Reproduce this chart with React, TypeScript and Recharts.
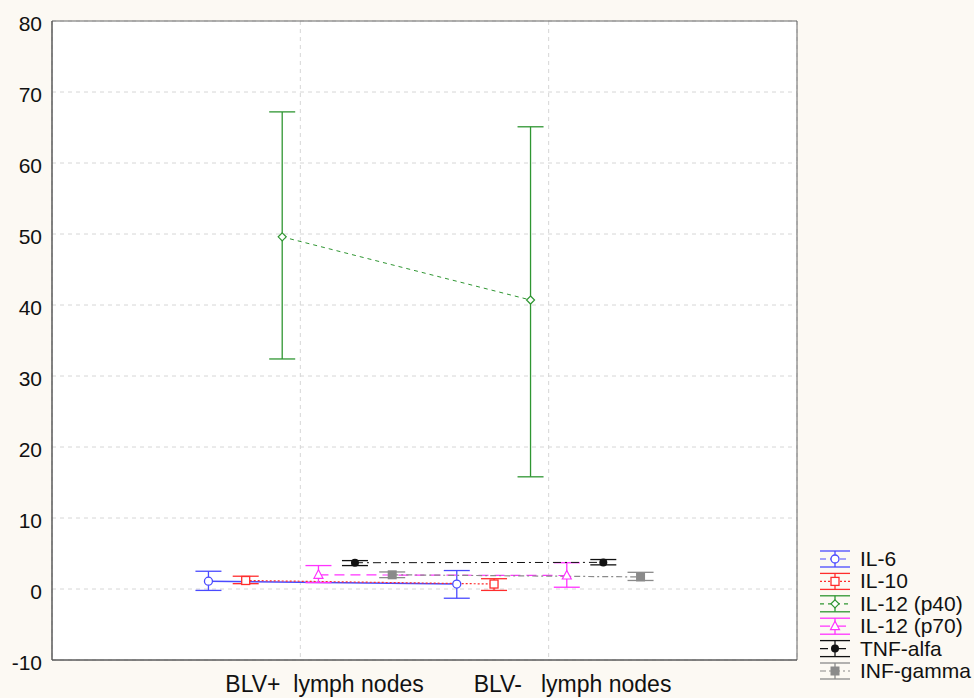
import { ComposedChart, Line, XAxis, YAxis, CartesianGrid, ErrorBar, ReferenceArea, Legend } from 'recharts'

const categories = ['BLV+  lymph nodes', 'BLV-   lymph nodes']
const seriesNames = ['IL-6', 'IL-10', 'IL-12 (p40)', 'IL-12 (p70)', 'TNF-alfa', 'INF-gamma']
const yTicks = [-10, 0, 10, 20, 30, 40, 50, 60, 70, 80]

// values per series, same order as seriesNames
const meanBlvPos = [1.1, 1.2, 49.6, 2.0, 3.7, 2.0]
const lowBlvPos = [-0.2, 0.75, 32.4, 0.9, 3.3, 1.6]
const highBlvPos = [2.5, 1.8, 67.2, 3.3, 4.0, 2.4]

const meanBlvNeg = [0.7, 0.7, 40.7, 1.9, 3.75, 1.7]
const lowBlvNeg = [-1.3, -0.2, 15.8, 0.25, 3.4, 1.2]
const highBlvNeg = [2.6, 1.45, 65.1, 3.7, 4.15, 2.35]

// horizontal shift of each series around its category
const offsets = [-0.37, -0.22, -0.073, 0.073, 0.22, 0.37]

type Marker = 'circle' | 'square' | 'diamond' | 'triangle' | 'dot' | 'block'

const STYLES: { color: string; dash?: string; width: number; marker: Marker }[] = [
  { color: '#4a4aff', width: 1.5, marker: 'circle' },
  { color: '#ff2d2d', dash: '2 2', width: 1.2, marker: 'square' },
  { color: '#2f9632', dash: '4 4', width: 1, marker: 'diamond' },
  { color: '#ff33ff', dash: '10 6', width: 1.2, marker: 'triangle' },
  { color: '#111111', dash: '8 4 2 4', width: 1, marker: 'dot' },
  { color: '#8a8a8a', dash: '6 3 2 3', width: 1.2, marker: 'block' },
]

const FONT = 'Liberation Sans, Arial, sans-serif'

const seriesData = seriesNames.map((name, i) => {
  const means = [meanBlvPos[i], meanBlvNeg[i]]
  const lows = [lowBlvPos[i], lowBlvNeg[i]]
  const highs = [highBlvPos[i], highBlvNeg[i]]
  return {
    name,
    rows: means.map((m, c) => ({
      x: c + 1 + offsets[i],
      y: m,
      err: [m - lows[c], highs[c] - m],
    })),
  }
})

function MarkerShape({ cx, cy, marker, color }: { cx: number; cy: number; marker: Marker; color: string }) {
  switch (marker) {
    case 'circle':
      return <circle cx={cx} cy={cy} r={4} fill="#fff" stroke={color} strokeWidth={1.3} />
    case 'square':
      return <rect x={cx - 4} y={cy - 4} width={8} height={8} fill="#fff" stroke={color} strokeWidth={1.3} />
    case 'diamond':
      return (
        <polygon
          points={`${cx},${cy - 4} ${cx + 4},${cy} ${cx},${cy + 4} ${cx - 4},${cy}`}
          fill="#fff"
          stroke={color}
          strokeWidth={1.2}
        />
      )
    case 'triangle':
      return (
        <polygon
          points={`${cx},${cy - 5} ${cx + 4.5},${cy + 3.5} ${cx - 4.5},${cy + 3.5}`}
          fill="#fff"
          stroke={color}
          strokeWidth={1.2}
        />
      )
    case 'dot':
      return <circle cx={cx} cy={cy} r={4} fill={color} />
    default:
      return <rect x={cx - 4.5} y={cy - 4.5} width={9} height={9} fill={color} />
  }
}

const CategoryTick = ({ x, y, payload }: { x: number; y: number; payload: { value: number } }) => (
  <text x={x - 75} y={y + 30} fontSize={23} fill="#111" fontFamily={FONT} style={{ whiteSpace: 'pre' }}>
    {categories[payload.value - 1]}
  </text>
)

const ValueTick = ({ x, y, payload }: { x: number; y: number; payload: { value: number } }) => (
  <text x={x} y={y + 10} fontSize={21} fill="#111" fontFamily={FONT} textAnchor="end">
    {payload.value}
  </text>
)

const LegendBox = () => (
  <svg width={156} height={140}>
    {seriesNames.map((name, i) => {
      const s = STYLES[i]
      const cy = 14 + i * 22.4
      return (
        <g key={name}>
          <line x1={2} x2={32} y1={cy - 8} y2={cy - 8} stroke={s.color} strokeWidth={1.3} />
          <line x1={2} x2={32} y1={cy + 8} y2={cy + 8} stroke={s.color} strokeWidth={1.3} />
          <line x1={17} x2={17} y1={cy - 8} y2={cy + 8} stroke={s.color} strokeWidth={1.3} />
          <line x1={2} x2={32} y1={cy} y2={cy} stroke={s.color} strokeWidth={1.2} strokeDasharray={s.dash ?? '6 4'} />
          <MarkerShape cx={17} cy={cy} marker={s.marker} color={s.color} />
          <text x={42} y={cy + 7} fontSize={21} fill="#111" fontFamily={FONT}>
            {name}
          </text>
        </g>
      )
    })}
  </svg>
)

export default function App() {
  return (
    <div style={{ position: 'absolute', left: 0, top: 0, width: 974, height: 698, background: '#fcf9f3' }}>
      <ComposedChart width={974} height={698} margin={{ top: 21, right: 177, bottom: 0, left: 0 }}>
        <CartesianGrid fill="#ffffff" stroke="#d6d6d6" strokeDasharray="4 4" />
        <XAxis
          type="number"
          dataKey="x"
          domain={[0, 3]}
          ticks={[1, 2]}
          height={38}
          tickSize={0}
          tickLine={false}
          axisLine={{ stroke: '#555' }}
          tick={CategoryTick}
          allowDuplicatedCategory={false}
        />
        <YAxis
          type="number"
          domain={[-10, 80]}
          ticks={yTicks}
          width={52}
          tickSize={0}
          tickMargin={10}
          tickLine={false}
          axisLine={{ stroke: '#555' }}
          tick={ValueTick}
        />
        <ReferenceArea x1={0} x2={3} y1={-10} y2={80} fill="none" stroke="#666" strokeWidth={1} />
        {seriesData.map((s, i) => {
          const st = STYLES[i]
          return (
            <Line
              key={s.name}
              data={s.rows}
              dataKey="y"
              name={s.name}
              stroke={st.color}
              strokeWidth={st.width}
              strokeDasharray={st.dash}
              isAnimationActive={false}
              dot={(p: { cx: number; cy: number; index: number }) => (
                <MarkerShape key={`${s.name}-${p.index}`} cx={p.cx} cy={p.cy} marker={st.marker} color={st.color} />
              )}
              activeDot={false}
            >
              <ErrorBar dataKey="err" direction="y" width={13} stroke={st.color} strokeWidth={1.3} isAnimationActive={false} />
            </Line>
          )
        })}
        <Legend
          layout="vertical"
          align="center"
          verticalAlign="middle"
          content={LegendBox}
          wrapperStyle={{ position: 'absolute', left: 818, top: 545, width: 156, height: 140 }}
        />
      </ComposedChart>
    </div>
  )
}
